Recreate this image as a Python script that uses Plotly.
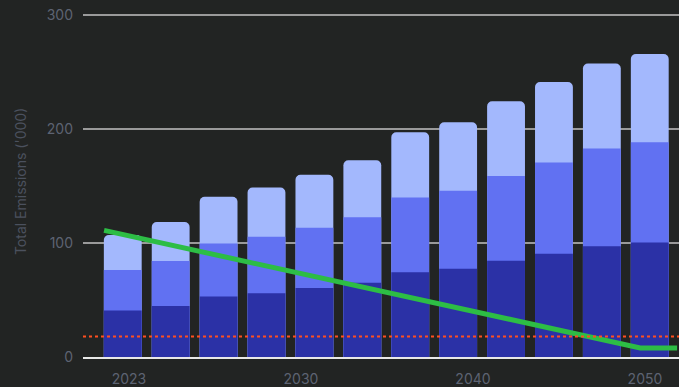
import plotly.graph_objects as go

# Stacked segment values (bottom -> top), one per bar
bottom = [40.7, 44.8, 53.0, 56.0, 60.4, 65.1, 74.4, 77.4, 84.4, 90.6, 97.0, 100.3]
middle = [35.5, 39.3, 46.5, 49.4, 53.0, 57.4, 65.4, 68.3, 74.4, 80.0, 85.9, 87.9]
top = [30.8, 34.3, 40.9, 43.2, 46.3, 49.9, 57.2, 60.1, 65.5, 70.4, 74.5, 77.4]

# Axis labels (positions in bar-index units)
tick_labels = ["2023", "2030", "2040", "2050"]
tick_positions = [0.13, 3.72, 7.31, 10.9]
y_ticks = [0, 100, 200, 300]

# Target pathway line (bar-index units)
target_x = [-0.39, 10.8, 11.57]
target_y = [111, 8, 8]

# Threshold (dotted)
threshold = 18

x = list(range(len(bottom)))
mid_cum = [b + m for b, m in zip(bottom, middle)]
tot_cum = [c + t for c, t in zip(mid_cum, top)]

BG = "#222423"
FONT = "Inter"
TICK_COLOR = "#5d6372"
fig = go.Figure()
for vals, col in [(tot_cum, "#a3b8fd"), (mid_cum, "#6171f2"), (bottom, "#2b31a6")]:
    fig.add_trace(go.Bar(x=x, y=vals, width=0.79,
                         marker=dict(color=col, line=dict(width=0), cornerradius=5),
                         showlegend=False, hoverinfo="skip"))

fig.add_trace(go.Scatter(x=target_x, y=target_y, mode="lines",
                         line=dict(color="#2dbd45", width=5), showlegend=False, hoverinfo="skip"))

fig.add_shape(type="line", xref="paper", x0=0, x1=1, yref="y", y0=threshold, y1=threshold,
              line=dict(color="#ff4f1f", width=2, dash="dot"), layer="above")

fig.add_annotation(text="Total Emissions ('000)", xref="paper", yref="paper", x=0, y=0.49,
                   xanchor="center", yanchor="middle", xshift=-63, textangle=-90, showarrow=False,
                   font=dict(family=FONT, size=14, color="#4b515e"))

fig.update_layout(
    width=679, height=387,
    margin=dict(l=83, r=0, t=0, b=30),
    paper_bgcolor=BG, plot_bgcolor=BG,
    barmode="overlay",
    showlegend=False,
    font=dict(family=FONT, size=14, color=TICK_COLOR),
    xaxis=dict(range=[-0.83, 11.61], tickvals=tick_positions, ticktext=tick_labels,
               showgrid=False, zeroline=False, showline=True, linecolor="#e8e8e8", linewidth=2,
               layer="above traces", ticks="outside", ticklen=8, tickcolor="rgba(0,0,0,0)",
               tickfont=dict(family=FONT, size=14, color=TICK_COLOR)),
    yaxis=dict(range=[0, 313], tickvals=y_ticks, showgrid=True, gridcolor="#9a9a9a", gridwidth=1.5,
               zeroline=False, ticklabelstandoff=9, tickfont=dict(family=FONT, size=14, color=TICK_COLOR)),
)

fig.write_html("out.html")
